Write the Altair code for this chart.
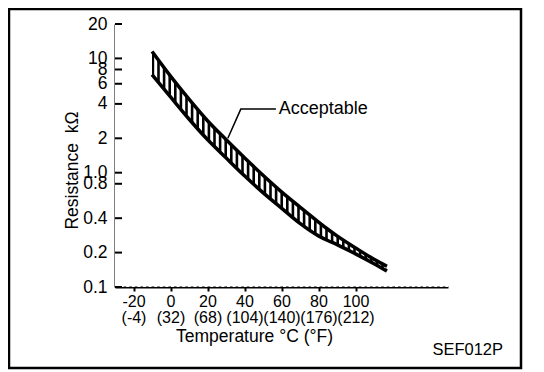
import altair as alt
import pandas as pd

# Band of acceptable resistance (kΩ) vs temperature (°C)
temps = [-10, 0, 10, 20, 30, 40, 50, 60, 70, 80, 85, 90, 100, 110, 117]
upper = [11.5, 7.0, 4.4, 2.85, 1.95, 1.35, 0.95, 0.68, 0.50, 0.37, 0.32, 0.28, 0.22, 0.175, 0.152]
lower = [7.2, 4.6, 2.95, 1.95, 1.35, 0.94, 0.67, 0.49, 0.36, 0.28, 0.255, 0.235, 0.195, 0.16, 0.138]

x_ticks = [-20, 0, 20, 40, 60, 80, 100]
x_f_labels = ["(-4)", "(32)", "(68)", "(104)", "(140)", "(176)", "(212)"]
y_ticks = [20, 10, 8, 6, 4, 2, 1.0, 0.8, 0.4, 0.2, 0.1]
y_labels = ["20", "10", "8", "6", "4", "2", "1.0", "0.8", "0.4", "0.2", "0.1"]

leader_t = [31, 38, 57]
leader_v = [2.0, 3.6, 3.6]
label_t = [58.5]
label_v = [3.6]
label_text = ["Acceptable"]

FONT = "Liberation Sans"
W, H = 333, 263

band_df = pd.DataFrame({"t": temps, "upper": upper, "lower": lower})
tick_df = pd.DataFrame({"upper": y_ticks})
leader_df = pd.DataFrame({"t": leader_t, "upper": leader_v})
label_df = pd.DataFrame({"t": label_t, "upper": label_v, "txt": label_text})
one = pd.DataFrame({"a": [0]})

x_expr = " : ".join(
    f"datum.value == {c} ? ['{c}', '{f}']" for c, f in zip(x_ticks, x_f_labels)
) + " : ''"
y_expr = " : ".join(
    f"abs(datum.value - {v}) < 1e-9 ? '{l}'" for v, l in zip(y_ticks, y_labels)
) + " : ''"

xscale = alt.Scale(domain=[-30, 150], nice=False, zero=False)
yscale = alt.Scale(type="log", domain=[0.1, 20], nice=False)

x_main = alt.X(
    "t:Q", scale=xscale,
    axis=alt.Axis(
        values=x_ticks, labelExpr=x_expr, title="Temperature °C (°F)",
        grid=False, tickSize=4, tickWidth=2, labelPadding=2, labelLineHeight=16,
        labelFontSize=16,
        titleX=139, titleY=49, titleAlign="center", titleBaseline="middle",
        titleFontSize=17.5,
        labelFlush=False, labelOverlap=False,
    ),
)
y_main = alt.Y(
    "upper:Q", scale=yscale,
    axis=alt.Axis(
        values=y_ticks, labelExpr=y_expr, title="Resistance\u00a0\u00a0kΩ",
        grid=False, ticks=False, tickSize=0, labelPadding=8, labelFontSize=17.5,
        titleX=-43, titleY=146, titleAngle=270, titleAlign="center",
        titleBaseline="middle", titleFontSize=17.5,
        labelOverlap=False, labelFlush=False,
    ),
)
xs = alt.X("t:Q", scale=xscale)
ys = alt.Y("upper:Q", scale=yscale)

area = alt.Chart(band_df).mark_area(color="black", interpolate="monotone").encode(
    x=x_main, y=y_main, y2="lower:Q"
)
hatch = alt.Chart(one).mark_rule(
    color="white", strokeWidth=H, strokeDash=[3, 2.6], strokeCap="butt"
).encode(x=alt.value(0), x2=alt.value(W), y=alt.value(H / 2))
up_line = alt.Chart(band_df).mark_line(
    color="black", strokeWidth=3.5, interpolate="monotone"
).encode(x=xs, y=ys)
lo_line = alt.Chart(band_df).mark_line(
    color="black", strokeWidth=3.5, interpolate="monotone"
).encode(x=xs, y=alt.Y("lower:Q", scale=yscale))
yt = alt.Chart(tick_df).mark_rule(color="black", strokeWidth=2).encode(
    y=ys, x=alt.value(0), x2=alt.value(7)
)
leader = alt.Chart(leader_df).mark_line(color="black", strokeWidth=1.5).encode(x=xs, y=ys)
label = alt.Chart(label_df).mark_text(
    align="left", baseline="middle", font=FONT, fontSize=18, color="black"
).encode(x=xs, y=ys, text="txt:N")
frame = alt.Chart(one).mark_rect(filled=False, color="black", strokeWidth=2.5).encode(
    x=alt.value(-106), x2=alt.value(406), y=alt.value(-15), y2=alt.value(344)
)
code = alt.Chart(one).mark_text(
    align="right", baseline="middle", font=FONT, fontSize=16.5, color="black"
).encode(x=alt.value(388), y=alt.value(326), text=alt.value("SEF012P"))

chart = alt.layer(area, hatch, up_line, lo_line, yt, leader, label, frame, code).properties(
    width=W, height=H,
    autosize=alt.AutoSizeParams(type="none"),
    padding={"left": 107, "top": 16, "right": 76, "bottom": 85},
).configure_view(stroke=None).configure_axis(
    domainColor="black", domainWidth=2, tickColor="black",
    labelColor="black", labelFont=FONT, labelFontSize=15,
    titleColor="black", titleFont=FONT, titleFontSize=15, titleFontWeight="normal",
    zindex=1,
)

chart.save("out.html", embed_options={"renderer": "svg", "actions": False})
